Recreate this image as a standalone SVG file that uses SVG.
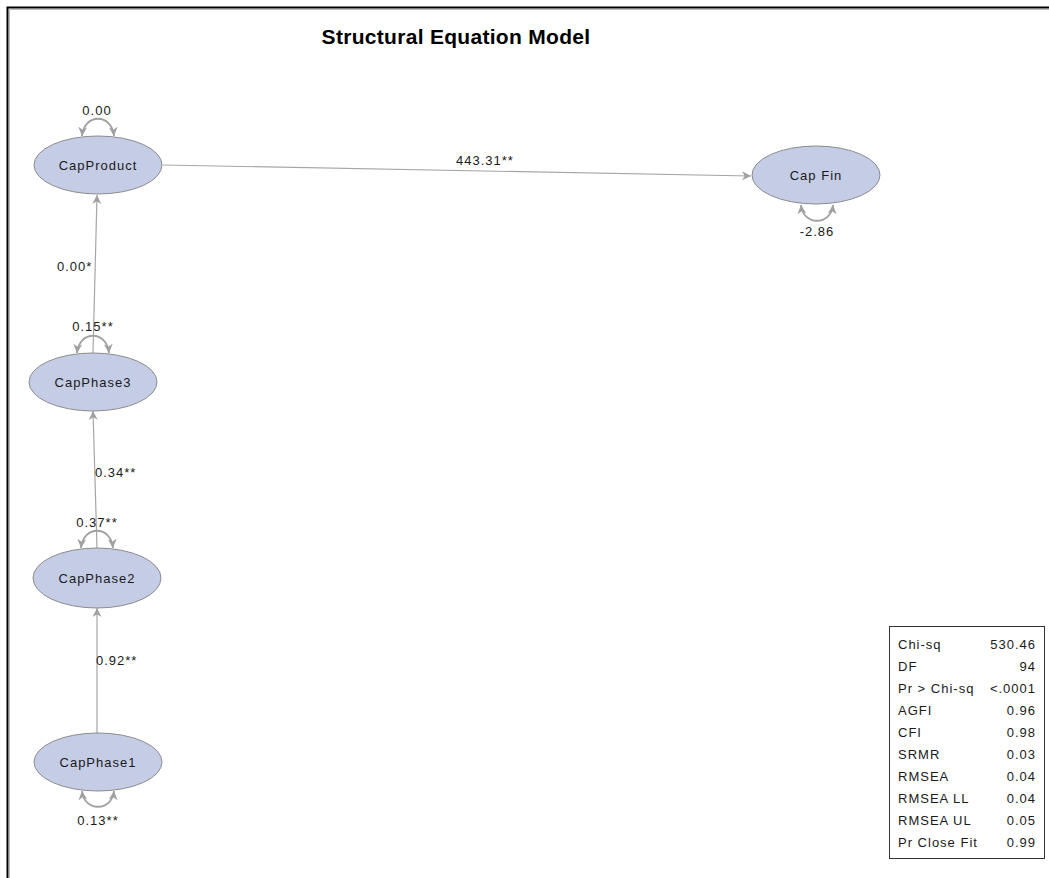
<svg xmlns="http://www.w3.org/2000/svg" width="1049" height="878" viewBox="0 0 1049 878">
<style>
.node ellipse{fill:#c5cde6;stroke:#8c8c8c;stroke-width:1}
.lbl{font-family:"Liberation Sans",Arial,sans-serif;font-size:13px;letter-spacing:1px;fill:#1a1a1a}
.nl{text-anchor:middle}
.edge{fill:none;stroke:#a6a6a6;stroke-width:1.2}
.loop{fill:none;stroke:#a0a0a0;stroke-width:1.8}
.title{font-family:"Liberation Sans",Arial,sans-serif;font-size:21px;letter-spacing:0.3px;font-weight:bold;fill:#000}
</style>
<defs>
<marker id="ah" viewBox="0 0 10 10" refX="10" refY="5" markerWidth="9" markerHeight="9" markerUnits="userSpaceOnUse" orient="auto">
<path d="M0,0 L10,5 L0,10 L3,5 Z" fill="#a0a0a0"/>
</marker>
<marker id="al" viewBox="0 0 10 10" refX="10" refY="5" markerWidth="9" markerHeight="9" markerUnits="userSpaceOnUse" orient="auto-start-reverse">
<path d="M0,0 L10,5 L0,10 L3,5 Z" fill="#a0a0a0"/>
</marker>
</defs>
<rect width="1049" height="878" fill="#fff"/>
<path d="M7.5,878 V7.5 H1049" fill="none" stroke="#000" stroke-width="2"/>
<path d="M9.5,878 V9.5 H1049" fill="none" stroke="#bbb" stroke-width="1"/>
<text class="title" x="456" y="44" text-anchor="middle">Structural Equation Model</text>

<g id="connectors">
<line class="edge" x1="163" y1="165" x2="751" y2="176" marker-end="url(#ah)"/>
<line class="edge" x1="93" y1="353" x2="97" y2="195" marker-end="url(#ah)"/>
<line class="edge" x1="97" y1="548" x2="93" y2="411" marker-end="url(#ah)"/>
<line class="edge" x1="97" y1="733" x2="97" y2="608" marker-end="url(#ah)"/>
<path class="loop" d="M82,136 C84,113 112,113 114,136" marker-start="url(#al)" marker-end="url(#al)"/>
<path class="loop" d="M77,353 C79,330 107,330 109,353" marker-start="url(#al)" marker-end="url(#al)"/>
<path class="loop" d="M81,548 C83,525 111,525 113,548" marker-start="url(#al)" marker-end="url(#al)"/>
<path class="loop" d="M82,791 C84,812 112,812 114,791" marker-start="url(#al)" marker-end="url(#al)"/>
<path class="loop" d="M801,205 C803,226 831,226 833,205" marker-start="url(#al)" marker-end="url(#al)"/>
<text class="lbl" x="456" y="165">443.31**</text>
<text class="lbl" x="57" y="271">0.00*</text>
<text class="lbl" x="95" y="477">0.34**</text>
<text class="lbl" x="96" y="665">0.92**</text>
<text class="lbl nl" x="97" y="115">0.00</text>
<text class="lbl nl" x="93" y="331">0.15**</text>
<text class="lbl nl" x="97" y="527">0.37**</text>
<text class="lbl nl" x="98" y="825">0.13**</text>
<text class="lbl nl" x="817" y="236">-2.86</text>
</g>

<g id="CapProduct" class="node">
<ellipse cx="98" cy="165" rx="64" ry="29"/>
<text class="lbl nl" x="98" y="170">CapProduct</text>
</g>
<g id="CapFin" class="node">
<ellipse cx="816" cy="175" rx="64" ry="29"/>
<text class="lbl nl" x="816" y="180">Cap Fin</text>
</g>
<g id="CapPhase3" class="node">
<ellipse cx="93" cy="382" rx="64" ry="29"/>
<text class="lbl nl" x="93" y="387">CapPhase3</text>
</g>
<g id="CapPhase2" class="node">
<ellipse cx="97" cy="578" rx="64" ry="30"/>
<text class="lbl nl" x="97" y="583">CapPhase2</text>
</g>
<g id="CapPhase1" class="node">
<ellipse cx="98" cy="762" rx="64" ry="29"/>
<text class="lbl nl" x="98" y="767">CapPhase1</text>
</g>

<g id="fit-table">
<rect x="889.5" y="626.5" width="155" height="232" fill="#fff" stroke="#333" stroke-width="1"/>
<g class="lbl">
<text x="898" y="649">Chi-sq</text>
<text x="898" y="671">DF</text>
<text x="898" y="693">Pr &gt; Chi-sq</text>
<text x="898" y="715">AGFI</text>
<text x="898" y="737">CFI</text>
<text x="898" y="759">SRMR</text>
<text x="898" y="781">RMSEA</text>
<text x="898" y="803">RMSEA LL</text>
<text x="898" y="825">RMSEA UL</text>
<text x="898" y="847">Pr Close Fit</text>
</g>
<g class="lbl" text-anchor="end">
<text x="1036" y="649">530.46</text>
<text x="1036" y="671">94</text>
<text x="1036" y="693">&lt;.0001</text>
<text x="1036" y="715">0.96</text>
<text x="1036" y="737">0.98</text>
<text x="1036" y="759">0.03</text>
<text x="1036" y="781">0.04</text>
<text x="1036" y="803">0.04</text>
<text x="1036" y="825">0.05</text>
<text x="1036" y="847">0.99</text>
</g>
</g>
</svg>
